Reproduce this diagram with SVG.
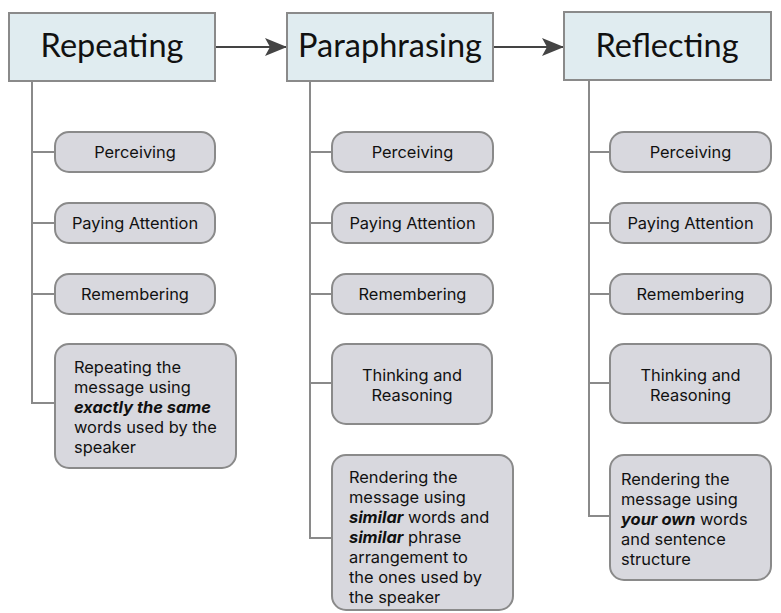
<svg xmlns="http://www.w3.org/2000/svg" width="781" height="613" viewBox="0 0 781 613">
  <defs>
    <style>
      .stage { fill: #e0ecf0; stroke: #8a8a8a; stroke-width: 2; }
      .step { fill: #d8d8de; stroke: #8a8a8a; stroke-width: 2; }
      .link { fill: none; stroke: #8a8a8a; stroke-width: 2; }
      .flow { fill: none; stroke: #444; stroke-width: 2; }
      .title { font-family: Lato, "Liberation Sans", sans-serif; font-size: 32.5px; fill: #111; text-anchor: middle; }
      .label { font-family: Inter, Lato, "Liberation Sans", sans-serif; font-size: 16.4px; fill: #111; text-anchor: middle; }
      .body { font-family: Inter, Lato, "Liberation Sans", sans-serif; font-size: 16.4px; fill: #111; }
      .em { font-weight: bold; font-style: italic; }
    </style>
    <marker id="head" viewBox="0 0 22 18" refX="22" refY="9" markerWidth="22" markerHeight="18" markerUnits="userSpaceOnUse" orient="auto">
      <path d="M0 0 L22 9 L0 18 L5 9 Z" fill="#444"/>
    </marker>
  </defs>

  <!-- connectors: stage-to-stage arrows and branch lines -->
  <g id="connectors">
    <line class="flow" x1="215" y1="47" x2="287" y2="47" marker-end="url(#head)"/>
    <line class="flow" x1="493" y1="47" x2="564" y2="47" marker-end="url(#head)"/>
    <path class="link" d="M32 81 V403 H55 M32 152 H55 M32 223 H55 M32 294 H55"/>
    <path class="link" d="M310 81 V538 H332 M310 152 H332 M310 223 H332 M310 294 H332 M310 383 H332"/>
    <path class="link" d="M589 80 V516 H610 M589 152 H610 M589 223 H610 M589 294 H610 M589 383 H610"/>
  </g>

  <!-- stage headers -->
  <g id="repeating">
    <rect class="stage" x="9" y="13" width="206" height="68"/>
    <text class="title" x="112" y="57">Repeating</text>
  </g>
  <g id="paraphrasing">
    <rect class="stage" x="287" y="13" width="206" height="68"/>
    <text class="title" x="390" y="57">Paraphrasing</text>
  </g>
  <g id="reflecting">
    <rect class="stage" x="564" y="12" width="207" height="68"/>
    <text class="title" x="667" y="57">Reflecting</text>
  </g>

  <!-- Repeating steps -->
  <g id="rep-perceiving">
    <rect class="step" x="55" y="132" width="160" height="40" rx="14"/>
    <text class="label" x="135" y="158">Perceiving</text>
  </g>
  <g id="rep-attention">
    <rect class="step" x="55" y="203" width="160" height="40" rx="14"/>
    <text class="label" x="135" y="229">Paying Attention</text>
  </g>
  <g id="rep-remembering">
    <rect class="step" x="55" y="274" width="160" height="40" rx="14"/>
    <text class="label" x="135" y="300">Remembering</text>
  </g>
  <g id="rep-result">
    <rect class="step" x="55" y="344" width="181" height="124" rx="14"/>
    <text class="body" x="74">
      <tspan x="74" y="373">Repeating the</tspan>
      <tspan x="74" y="393">message using</tspan>
      <tspan x="74" y="413" class="em">exactly the same</tspan>
      <tspan x="74" y="433">words used by the</tspan>
      <tspan x="74" y="453">speaker</tspan>
    </text>
  </g>

  <!-- Paraphrasing steps -->
  <g id="para-perceiving">
    <rect class="step" x="332" y="132" width="161" height="40" rx="14"/>
    <text class="label" x="412.5" y="158">Perceiving</text>
  </g>
  <g id="para-attention">
    <rect class="step" x="332" y="203" width="161" height="40" rx="14"/>
    <text class="label" x="412.5" y="229">Paying Attention</text>
  </g>
  <g id="para-remembering">
    <rect class="step" x="332" y="274" width="161" height="40" rx="14"/>
    <text class="label" x="412.5" y="300">Remembering</text>
  </g>
  <g id="para-thinking">
    <rect class="step" x="332" y="344" width="160" height="80" rx="14"/>
    <text class="label" x="412" y="381">Thinking and</text>
    <text class="label" x="412" y="401">Reasoning</text>
  </g>
  <g id="para-result">
    <rect class="step" x="332" y="455" width="181" height="155" rx="14"/>
    <text class="body">
      <tspan x="349" y="483">Rendering the</tspan>
      <tspan x="349" y="503">message using</tspan>
      <tspan x="349" y="523"><tspan class="em">similar</tspan> words and</tspan>
      <tspan x="349" y="543"><tspan class="em">similar</tspan> phrase</tspan>
      <tspan x="349" y="563">arrangement to</tspan>
      <tspan x="349" y="583">the ones used by</tspan>
      <tspan x="349" y="603">the speaker</tspan>
    </text>
  </g>

  <!-- Reflecting steps -->
  <g id="refl-perceiving">
    <rect class="step" x="610" y="132" width="161" height="40" rx="14"/>
    <text class="label" x="690.5" y="158">Perceiving</text>
  </g>
  <g id="refl-attention">
    <rect class="step" x="610" y="203" width="161" height="40" rx="14"/>
    <text class="label" x="690.5" y="229">Paying Attention</text>
  </g>
  <g id="refl-remembering">
    <rect class="step" x="610" y="274" width="161" height="40" rx="14"/>
    <text class="label" x="690.5" y="300">Remembering</text>
  </g>
  <g id="refl-thinking">
    <rect class="step" x="610" y="344" width="161" height="79" rx="14"/>
    <text class="label" x="690.5" y="381">Thinking and</text>
    <text class="label" x="690.5" y="401">Reasoning</text>
  </g>
  <g id="refl-result">
    <rect class="step" x="610" y="455" width="161" height="125" rx="14"/>
    <text class="body">
      <tspan x="621" y="485">Rendering the</tspan>
      <tspan x="621" y="505">message using</tspan>
      <tspan x="621" y="525"><tspan class="em">your own</tspan> words</tspan>
      <tspan x="621" y="545">and sentence</tspan>
      <tspan x="621" y="565">structure</tspan>
    </text>
  </g>
</svg>
